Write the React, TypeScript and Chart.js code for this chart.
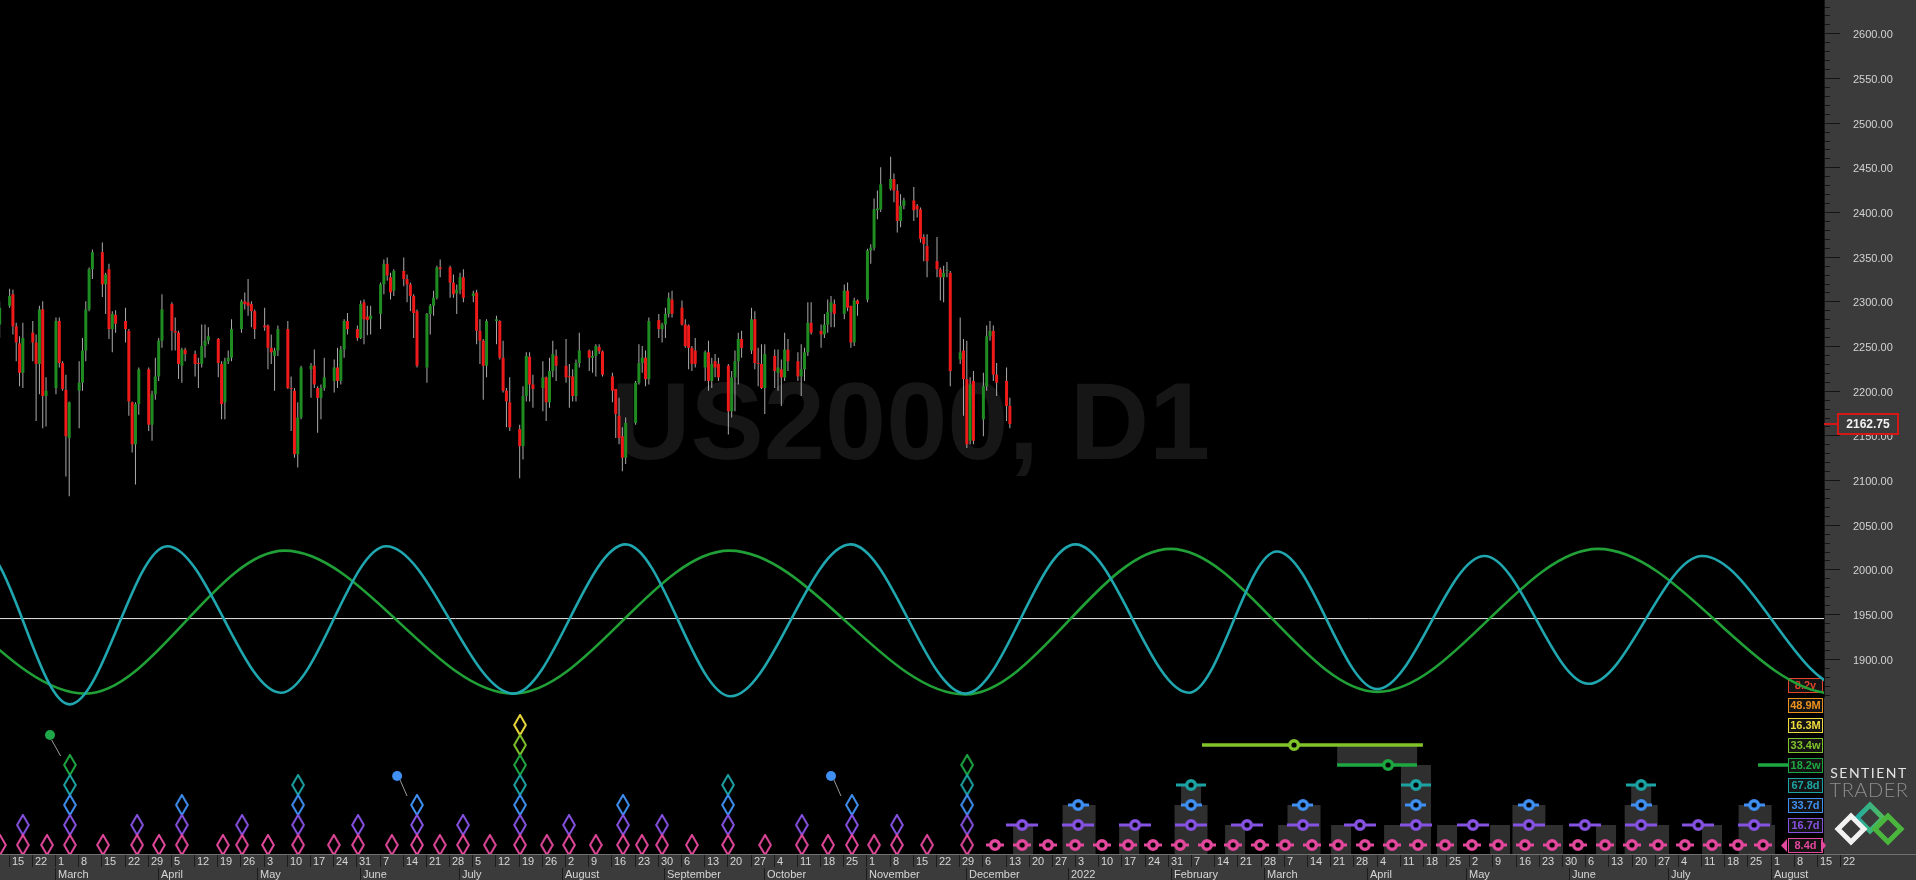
import React, { useEffect, useRef } from 'react';
import { Chart, registerables } from 'chart.js';

Chart.register(...registerables);

// ---------------- DATA ----------------
const candleStartDate = '2021-02-12';
const opens = [2274,
2295,2308,2272,2253,2220, 2265,2254,2230,2291,2194, 2203,2278,2231,2201,2147, 2200,2209,2245,2291,2336,
2355,2319,2336,2269,2285, 2278,2267,2187,2140,2185, 2224,2162,2196,2216,2256, 2297,2267,2265,2228,2246,
2241,2231,2230,2250,2256, 2258,2230,2187,2233,2237, 2269,2300,2299,2297,2289, 2273,2273,2248,2239,2245,
2269,2203,2200,2129,2170, 2224,2228,2203,2192,2203, 2211,2226,2211,2246,2278, 2269,2259,2299,2283,2280,
2286,2319,2342,2327,2312, 2334,2325,2319,2306,2289, 2226,2286,2295,2304,2338, 2338,2321,2309,2313,2327,
2306,2310,2267,2256,2228, 2278,2278,2237,2200,2187, 2157,2138,2194,2238,2207, 2203,2215,2187,2222,2239,
2228,2216,2216,2194,2231, 2245,2237,2239,2249,2244, 2216,2202,2172,2149,2125, 2164,2209,2231,2237,2213,
2279,2269,2274,2286,2302, 2293,2274,2273,2248,2245, 2226,2243,2211,2233,2230, 2228,2177,2215,2233,2258,
2245,2280,2231,2230,2203, 2239,2220,2224,2215,2246, 2233,2216,2224,2243,2276, 2267,2263,2274,2288,2297,
2286,2312,2295,2254,2301, 2302,2357,2360,2402,2403, 2426,2437,2424,2390,2407, 2413,2407,2403,2372,2362,
2345,2336,2327,2334,2332, 2235,2245,2213,2144,2211, 2168,2205,2261,2267,2218, 2211,2183];
const highs = [2300,
2314,2313,2276,2261,2276, 2278,2263,2295,2300,2215, 2282,2282,2233,2218,2188, 2233,2259,2300,2338,2358,
2366,2332,2342,2289,2290, 2293,2269,2188,2187,2226, 2226,2200,2237,2259,2308, 2299,2282,2267,2248,2248,
2245,2237,2274,2274,2271, 2259,2233,2237,2245,2280, 2302,2310,2325,2300,2291, 2293,2274,2263,2248,2273,
2278,2216,2203,2187,2228, 2231,2246,2205,2207,2237, 2235,2248,2250,2280,2287, 2273,2301,2302,2295,2295,
2321,2347,2349,2332,2336, 2349,2330,2321,2308,2291, 2287,2297,2312,2340,2347, 2340,2330,2319,2332,2336,
2312,2313,2280,2258,2280, 2284,2279,2256,2203,2215, 2162,2205,2243,2243,2218, 2233,2216,2237,2256,2246,
2258,2230,2224,2235,2265, 2246,2245,2252,2252,2245, 2220,2202,2192,2159,2170, 2211,2252,2250,2245,2282,
2286,2276,2293,2310,2312, 2301,2280,2274,2250,2259, 2245,2256,2237,2241,2237, 2230,2222,2245,2265,2267,
2293,2289,2248,2252,2252, 2246,2246,2235,2265,2258, 2243,2252,2248,2299,2299, 2274,2286,2302,2306,2302,
2319,2321,2295,2304,2302, 2359,2364,2415,2424,2450, 2462,2443,2431,2420,2416, 2428,2409,2405,2375,2375,
2372,2338,2340,2344,2334, 2282,2258,2256,2215,2222, 2220,2273,2278,2273,2231, 2226,2192];
const lows = [2259,
2293,2263,2233,2205,2203, 2233,2166,2196,2158,2160, 2196,2226,2200,2104,2082, 2158,2200,2233,2289,2325,
2305,2286,2258,2243,2265, 2254,2172,2131,2095,2173, 2155,2144,2190,2211,2248, 2245,2245,2213,2209,2233,
2216,2203,2226,2237,2252, 2215,2168,2168,2230,2233, 2265,2291,2284,2271,2258, 2267,2224,2230,2200,2239,
2202,2155,2125,2114,2168, 2192,2203,2153,2168,2200, 2198,2203,2207,2237,2263, 2256,2258,2252,2262,2263,
2269,2308,2323,2302,2306, 2317,2299,2289,2259,2226, 2209,2263,2284,2302,2327, 2304,2304,2286,2308,2299,
2299,2252,2230,2190,2215, 2252,2235,2198,2159,2155, 2102,2123,2188,2188,2181, 2177,2166,2181,2215,2211,
2209,2181,2188,2188,2226, 2222,2220,2216,2241,2216, 2187,2147,2140,2110,2118, 2162,2207,2220,2205,2207,
2259,2254,2259,2282,2282, 2273,2248,2224,2222,2226, 2211,2200,2203,2215,2211, 2151,2170,2177,2207,2237,
2241,2224,2205,2202,2174, 2203,2200,2183,2211,2222, 2211,2194,2211,2239,2263, 2248,2259,2265,2271,2271,
2280,2289,2248,2250,2284, 2299,2342,2357,2392,2400, 2424,2411,2377,2383,2403, 2390,2394,2366,2345,2327,
2327,2301,2299,2327,2205, 2230,2172,2136,2140,2140, 2149,2200,2256,2211,2194, 2166,2158];
const closes = [2293,
2306,2272,2254,2220,2259, 2254,2230,2291,2194,2200, 2278,2231,2202,2149,2187, 2209,2245,2291,2336,2355,
2319,2330,2269,2286,2275, 2269,2188,2140,2185,2224, 2162,2196,2216,2256,2291, 2267,2265,2230,2246,2241,
2230,2230,2250,2256,2261, 2231,2185,2233,2237,2269, 2300,2297,2295,2289,2269, 2271,2248,2243,2245,2269,
2203,2202,2129,2170,2226, 2228,2207,2192,2203,2215, 2226,2211,2246,2278,2269, 2259,2297,2280,2279,2284,
2319,2342,2329,2310,2334, 2325,2319,2306,2287,2228, 2286,2295,2304,2338,2336, 2321,2308,2313,2327,2304,
2309,2267,2256,2228,2278, 2280,2237,2200,2188,2159, 2138,2194,2239,2207,2202, 2215,2187,2222,2241,2228,
2215,2215,2194,2231,2245, 2237,2239,2250,2244,2218, 2200,2174,2147,2125,2164, 2209,2231,2237,2213,2278,
2269,2274,2286,2304,2286, 2274,2250,2248,2230,2230, 2243,2211,2230,2226,2215, 2177,2215,2233,2258,2248,
2280,2231,2230,2203,2241, 2222,2226,2215,2246,2233, 2216,2224,2243,2276,2265, 2263,2274,2288,2299,2286,
2312,2293,2254,2301,2297, 2357,2360,2403,2404,2431, 2437,2424,2390,2407,2413, 2402,2403,2370,2364,2345,
2336,2327,2332,2335,2222, 2243,2213,2140,2207,2144, 2205,2261,2267,2218,2209, 2183,2162.75];
const lastPrice = 2162.75;

const yTickValues = [1900, 1950, 2000, 2050, 2100, 2150, 2200, 2250, 2300, 2350, 2400, 2450, 2500, 2550, 2600];

const weekTickFirst = '2021-02-15';
const weekTickLast = '2022-08-22';
const monthTickDates = ['2021-03-01','2021-04-01','2021-05-01','2021-06-01','2021-07-01','2021-08-01','2021-09-01','2021-10-01','2021-11-01','2021-12-01','2022-01-01','2022-02-01','2022-03-01','2022-04-01','2022-05-01','2022-06-01','2022-07-01','2022-08-01'];
const monthTickLabels = ['March','April','May','June','July','August','September','October','November','December','2022','February','March','April','May','June','July','August'];

// cycle oscillators: extremes (days since 2021-03-01, price units)
const tealDays = [-56, -23, 4.1, 33.6, 67.9, 99.7, 138.1, 172, 203.7, 239.9, 274.6, 307.8, 342.1, 368.6, 398.9, 431.3, 462.7, 497, 540, 575];
const tealValues = [1849, 2026, 1849, 2026, 1862, 2026, 1861, 2028, 1858, 2028, 1861, 2028, 1862, 2020, 1866, 2015, 1872, 2015, 1868, 2015];
const greenDays = [-128, -62, 8.9, 69, 138, 203.3, 274.5, 336.5, 398.9, 465.6, 537, 605];
const greenValues = [1861, 2021, 1861, 2021, 1861, 2021, 1860, 2023, 1863, 2023, 1861, 2023];
const zeroLineValue = 1945;

// cycle rows (bottom to top)
const cycleNames = ['8.4d', '16.7d', '33.7d', '67.8d', '18.2w', '33.4w', '16.3M', '48.9M', '8.2y'];
const cycleColors = ['#e2489b', '#8652e2', '#3f90f2', '#1ca3a3', '#1ea842', '#80c42a', '#eedc3c', '#ec921f', '#e4432c'];

const diamondDays = [
  [-16.9, -10, -2.7, 4.2, 14.2, 24.5, 31.1, 38, 50.4, 56.2, 64, 73.1, 83.9, 91.2, 101.4, 109, 115.9, 122.9, 131, 140.1, 148.2, 154.9, 163, 171.2, 176.9, 183, 192, 202.9, 214.1, 225.2, 233.1, 240.3, 247, 253.9, 263, 275.1],
  [-10, 4.2, 24.5, 38, 56.2, 73.1, 91.2, 109, 122.9, 140.1, 154.9, 171.2, 183, 202.9, 225.2, 240.3, 253.9, 275.1],
  [4.2, 38, 73.1, 109, 140.1, 171.2, 202.9, 240.3, 275.1],
  [4.2, 73.1, 140.1, 202.9, 275.1],
  [4.2, 140.1, 275.1],
  [140.1],
  [140.1],
];
const ringDays = [
  [283.5, 291.7, 299.5, 307.7, 315.8, 323.7, 331.2, 339.4, 347.5, 355.4, 363.5, 371.1, 379.2, 387.1, 395.2, 403.4, 411.2, 419.4, 427.5, 435.4, 443.5, 451.7, 459.5, 467.7, 475.8, 483.7, 491.8, 500, 507.8, 515.4],
  [291.7, 308.6, 325.8, 342.7, 359.6, 376.5, 393.7, 410.6, 427.8, 444.7, 461.6, 478.6, 495.8, 512.7],
  [308.6, 342.7, 376.5, 410.6, 444.7, 478.6, 512.7],
  [342.7, 410.6, 478.6],
  [402.2],
  [373.8],
];
const greenSpan = [386.8, 410.9];
const limeSpan = [346, 412.7];
const greenNextSpan = [513.9, 523];

const grayNarrowDays = [292, 324, 356, 372, 388, 404, 420, 436, 452, 468, 484, 500, 516];
const grayWideDays = [308.9, 342.7, 376.8, 444.7, 478.6, 513];
const grayTealDays = [342.7, 478.6];
const grayTallDays = [410.6];
const grayGreenDays = [398.9];

const ballGreen = [{ x: -1.8, y: 5.5 }];
const ballBlue = [{ x: 103, y: 3.45 }, { x: 234, y: 3.45 }];
const ballStems = [
  [{ x: -1.3, y: 5.25 }, { x: 1.4, y: 4.45 }],
  [{ x: 103.9, y: 3.25 }, { x: 106, y: 2.45 }],
  [{ x: 234.9, y: 3.25 }, { x: 237, y: 2.45 }],
];

// ---------------- LAYOUT / STYLE ----------------
const W = 1916, H = 880;
const AXIS_W = 92, STRIP_H = 26;
const X_MIN = -16.9, X_MAX = 533.8;
const Y_MIN = 1681.5, Y_MAX = 2637.3;
const R_MIN = -0.45, R_MAX = 42.25;
const PANEL = '#3b3b3b';
const FONT = '"Liberation Sans", Arial, sans-serif';

const BASE = Date.UTC(2021, 2, 1);
const dayOf = (s: string) => {
  const [y, m, d] = s.split('-').map(Number);
  return (Date.UTC(y, m - 1, d) - BASE) / 86400000;
};
const dateOfDay = (d: number) => new Date(BASE + d * 86400000);

function tradingDays(start: string, n: number) {
  const out: number[] = [];
  let d = dayOf(start);
  while (out.length < n) {
    const wd = dateOfDay(d).getUTCDay();
    if (wd !== 0 && wd !== 6) out.push(d);
    d++;
  }
  return out;
}

function makeDiamond(color: string) {
  const c = document.createElement('canvas');
  c.width = 14; c.height = 22;
  const g = c.getContext('2d')!;
  g.strokeStyle = color; g.lineWidth = 2;
  g.beginPath();
  g.moveTo(7, 1); g.lineTo(12.8, 11); g.lineTo(7, 21); g.lineTo(1.2, 11); g.closePath();
  g.stroke();
  return c;
}
function makeRing(color: string, bar: number) {
  const w = Math.max(bar, 14);
  const c = document.createElement('canvas');
  c.width = w; c.height = 14;
  const g = c.getContext('2d')!;
  if (bar > 0) { g.fillStyle = color; g.fillRect(0, 5.5, w, 3); }
  g.beginPath(); g.arc(w / 2, 7, 4.3, 0, Math.PI * 2);
  g.fillStyle = '#000'; g.fill();
  g.lineWidth = 3.4; g.strokeStyle = color; g.stroke();
  return c;
}

const panelPlugin = {
  id: 'panels',
  beforeDraw(chart: any) {
    const { ctx, chartArea: a } = chart;
    ctx.save();
    ctx.fillStyle = '#000'; ctx.fillRect(0, 0, W, H);
    ctx.fillStyle = PANEL; ctx.fillRect(a.right, 0, W - a.right, H);
    ctx.restore();
  },
  beforeDatasetsDraw(chart: any) {
    const { ctx, chartArea: a, scales } = chart;
    ctx.save();
    // watermark
    ctx.font = `bold 110px ${FONT}`;
    ctx.fillStyle = '#161616';
    ctx.textBaseline = 'alphabetic';
    ctx.textAlign = 'left';
    ctx.fillText('US2000, D1', 611, 459);
    // cycle label boxes
    ctx.font = `bold 11px ${FONT}`;
    ctx.textAlign = 'center';
    ctx.textBaseline = 'middle';
    cycleNames.forEach((name, k) => {
      const cy = Math.round(scales.yRows.getPixelForValue(k));
      const x0 = a.right - 36, bw = 35;
      ctx.fillStyle = '#141414';
      ctx.fillRect(x0, cy - 7, bw, 15);
      ctx.strokeStyle = cycleColors[k]; ctx.lineWidth = 1;
      ctx.strokeRect(x0 + 0.5, cy - 6.5, bw - 1, 14);
      ctx.fillStyle = cycleColors[k];
      ctx.fillText(name, x0 + bw / 2, cy + 1);
      if (k === 0) {
        ctx.beginPath();
        ctx.moveTo(x0 - 1, cy - 6); ctx.lineTo(x0 - 7, cy + 0.5); ctx.lineTo(x0 - 1, cy + 7); ctx.closePath(); ctx.fill();
        ctx.beginPath();
        ctx.moveTo(x0 + bw - 2, cy - 6); ctx.lineTo(x0 + bw + 3, cy + 0.5); ctx.lineTo(x0 + bw - 2, cy + 7); ctx.closePath(); ctx.fill();
      }
    });
    ctx.restore();
  },
  afterDraw(chart: any) {
    const { ctx, chartArea: a, scales } = chart;
    const ys = scales.y, xs = scales.x;
    ctx.save();
    // y axis tick marks
    ctx.fillStyle = '#141414';
    ctx.fillRect(a.right, 0, 1, Math.round(ys.getPixelForValue(1856)));
    for (let v = 1860; v <= 2630; v += 10) {
      const py = Math.round(ys.getPixelForValue(v));
      ctx.fillRect(a.right, py, v % 50 === 0 ? 16 : 6, 1);
    }
    // last price box
    const py = Math.round(ys.getPixelForValue(lastPrice));
    ctx.fillStyle = '#d41818';
    ctx.fillRect(a.right, py - 1, 15, 2);
    ctx.fillStyle = PANEL;
    ctx.fillRect(1838, py - 10, 60, 20);
    ctx.strokeStyle = '#d41818'; ctx.lineWidth = 2;
    ctx.strokeRect(1838, py - 10, 60, 20);
    ctx.fillStyle = '#f2f2f2';
    ctx.font = `bold 12px ${FONT}`;
    ctx.textAlign = 'center'; ctx.textBaseline = 'middle';
    ctx.fillText(lastPrice.toFixed(2), 1868, py + 1);

    // bottom time strip
    const top = a.bottom;
    ctx.fillStyle = PANEL;
    ctx.fillRect(0, top, W, H - top);
    ctx.fillStyle = '#707070';
    ctx.fillRect(0, top, W, 1);
    ctx.font = `11px ${FONT}`;
    ctx.textAlign = 'left'; ctx.textBaseline = 'middle';
    for (let d = dayOf(weekTickFirst); d <= dayOf(weekTickLast); d += 7) {
      const px = Math.round(xs.getPixelForValue(d));
      ctx.fillStyle = '#1c1c1c';
      ctx.fillRect(px - 1, top + 1, 1, 12);
      ctx.fillStyle = '#d6d6d6';
      ctx.fillText(String(dateOfDay(d).getUTCDate()), px + 2, top + 8);
    }
    monthTickDates.forEach((s, i) => {
      const px = Math.round(xs.getPixelForValue(dayOf(s)));
      ctx.fillStyle = '#1c1c1c';
      ctx.fillRect(px - 1, top + 14, 1, 12);
      ctx.fillStyle = '#d6d6d6';
      ctx.fillText(monthTickLabels[i], px + 2, top + 21);
    });

    // logo
    const cx = 1869;
    ctx.textAlign = 'center'; ctx.textBaseline = 'alphabetic';
    ctx.fillStyle = '#e4e4e4';
    ctx.font = `14px Lato, ${FONT}`;
    try { (ctx as any).letterSpacing = '1.5px'; } catch (e) {}
    ctx.fillText('SENTIENT', cx, 778);
    ctx.fillStyle = '#8e8e8e';
    ctx.font = `300 20px Lato, ${FONT}`;
    try { (ctx as any).letterSpacing = '0.5px'; } catch (e) {}
    ctx.fillText('TRADER', cx, 797);
    try { (ctx as any).letterSpacing = '0px'; } catch (e) {}
    const rh = (x: number, y: number, s: number, col: any) => {
      ctx.strokeStyle = col; ctx.lineWidth = 5; ctx.lineJoin = 'miter';
      ctx.beginPath();
      ctx.moveTo(x, y - s); ctx.lineTo(x + s, y); ctx.lineTo(x, y + s); ctx.lineTo(x - s, y); ctx.closePath();
      ctx.stroke();
    };
    const grad = ctx.createLinearGradient(1852, 0, 1890, 0);
    grad.addColorStop(0, '#1aa7b0'); grad.addColorStop(1, '#5cc04a');
    rh(1870, 818, 13, grad);
    rh(1888, 829, 13, '#4ab63e');
    rh(1851, 829, 13, '#f2f2f2');
    ctx.restore();
  },
};

export default function App() {
  const ref = useRef<HTMLCanvasElement>(null);
  useEffect(() => {
    document.body.style.margin = '0';
    document.body.style.background = '#000';
    const xs = tradingDays(candleStartDate, closes.length);
    const wickData = xs.map((x, i) => ({ x, y: [lows[i], highs[i]] }));
    const bodyData = xs.map((x, i) => ({ x, y: [opens[i], closes[i]] }));
    const bodyColors = xs.map((_, i) => (closes[i] >= opens[i] ? '#1f8c22' : '#ee1a1a'));

    const ringBars = [18, 32, 21, 30, 0, 0];
    const datasets: any[] = [];
    const grayBar = (days: number[], lo: number, hi: number, w: number) => ({
      type: 'bar', yAxisID: 'yRows', grouped: false, barThickness: w, order: 100,
      backgroundColor: '#2f2f2f', borderWidth: 0, inflateAmount: 0,
      data: days.map((x) => ({ x, y: [lo, hi] })),
    });
    datasets.push(grayBar(grayNarrowDays, R_MIN, 1.0, 20));
    datasets.push(grayBar(grayWideDays, R_MIN, 2.0, 33));
    datasets.push(grayBar(grayTealDays, 2.0, 3.0, 20));
    datasets.push(grayBar(grayTallDays, R_MIN, 4.0, 30));
    datasets.push(grayBar(grayGreenDays, 4.0, 4.95, 80));

    datasets.push({
      type: 'line', yAxisID: 'y', order: 90, borderColor: '#e6e6e6', borderWidth: 1, pointRadius: 0,
      data: [{ x: X_MIN - 5, y: zeroLineValue }, { x: X_MAX + 5, y: zeroLineValue }],
    });
    datasets.push({
      type: 'line', yAxisID: 'y', order: 81, borderColor: '#20a036', borderWidth: 2.6, pointRadius: 0,
      cubicInterpolationMode: 'monotone', data: greenDays.map((x, i) => ({ x, y: greenValues[i] })),
    });
    datasets.push({
      type: 'line', yAxisID: 'y', order: 80, borderColor: '#1fa6ae', borderWidth: 2.6, pointRadius: 0,
      cubicInterpolationMode: 'monotone', data: tealDays.map((x, i) => ({ x, y: tealValues[i] })),
    });
    datasets.push({
      type: 'bar', yAxisID: 'y', grouped: false, barThickness: 1, order: 70,
      backgroundColor: '#ababab', borderWidth: 0, inflateAmount: 0, data: wickData,
    });
    datasets.push({
      type: 'bar', yAxisID: 'y', grouped: false, barThickness: 3, order: 60, minBarLength: 1,
      backgroundColor: bodyColors, borderWidth: 0, inflateAmount: 0, data: bodyData,
    });
    ballStems.forEach((pts) => datasets.push({
      type: 'line', yAxisID: 'yRows', order: 50, borderColor: '#9a9a9a', borderWidth: 1, pointRadius: 0, data: pts,
    }));
    const spanLine = (span: number[], row: number, color: string) => ({
      type: 'line', yAxisID: 'yRows', order: 45, borderColor: color, borderWidth: 3.5, pointRadius: 0,
      data: [{ x: span[0], y: row }, { x: span[1], y: row }],
    });
    datasets.push(spanLine(limeSpan, 5, cycleColors[5]));
    datasets.push(spanLine(greenSpan, 4, cycleColors[4]));
    datasets.push(spanLine(greenNextSpan, 4, cycleColors[4]));

    diamondDays.forEach((days, row) => datasets.push({
      type: 'line', yAxisID: 'yRows', order: 40, showLine: false, clip: 0,
      pointStyle: makeDiamond(cycleColors[row]), pointRadius: 6,
      data: days.map((x) => ({ x, y: row })),
    }));
    ringDays.forEach((days, row) => datasets.push({
      type: 'line', yAxisID: 'yRows', order: 39, showLine: false, clip: 0,
      pointStyle: makeRing(cycleColors[row], ringBars[row]), pointRadius: 6,
      data: days.map((x) => ({ x, y: row })),
    }));
    datasets.push({
      type: 'line', yAxisID: 'yRows', order: 30, showLine: false, pointStyle: 'circle', pointRadius: 5,
      pointBackgroundColor: '#1ea84a', pointBorderWidth: 0, data: ballGreen,
    });
    datasets.push({
      type: 'line', yAxisID: 'yRows', order: 30, showLine: false, pointStyle: 'circle', pointRadius: 5,
      pointBackgroundColor: '#3f90f2', pointBorderWidth: 0, data: ballBlue,
    });

    const chart = new Chart(ref.current!, {
      type: 'line',
      data: { datasets },
      options: {
        responsive: false,
        maintainAspectRatio: false,
        devicePixelRatio: 1,
        animation: false,
        events: [],
        layout: { autoPadding: false, padding: { top: 0, left: 0, right: 0, bottom: STRIP_H } },
        plugins: { legend: { display: false }, tooltip: { enabled: false } },
        elements: { line: { fill: false } },
        scales: {
          x: { type: 'linear', axis: 'x', position: 'bottom', min: X_MIN, max: X_MAX, display: false, offset: false },
          yRows: { type: 'linear', axis: 'y', position: 'left', min: R_MIN, max: R_MAX, display: false },
          y: {
            type: 'linear', axis: 'y', position: 'right', min: Y_MIN, max: Y_MAX,
            grid: { display: false }, border: { display: false },
            afterBuildTicks: (axis: any) => { axis.ticks = yTickValues.map((v) => ({ value: v })); },
            afterFit: (axis: any) => { axis.width = AXIS_W; axis.paddingTop = 0; axis.paddingBottom = 0; },
            ticks: {
              padding: 21, labelOffset: 2, color: '#d2d2d2', font: { family: FONT, size: 11 },
              autoSkip: false, callback: (v: any) => Number(v).toFixed(2),
            },
          },
        },
      } as any,
      plugins: [panelPlugin],
    } as any);
    return () => chart.destroy();
  }, []);
  return <canvas ref={ref} width={W} height={H} style={{ display: 'block', width: W, height: H }} />;
}
